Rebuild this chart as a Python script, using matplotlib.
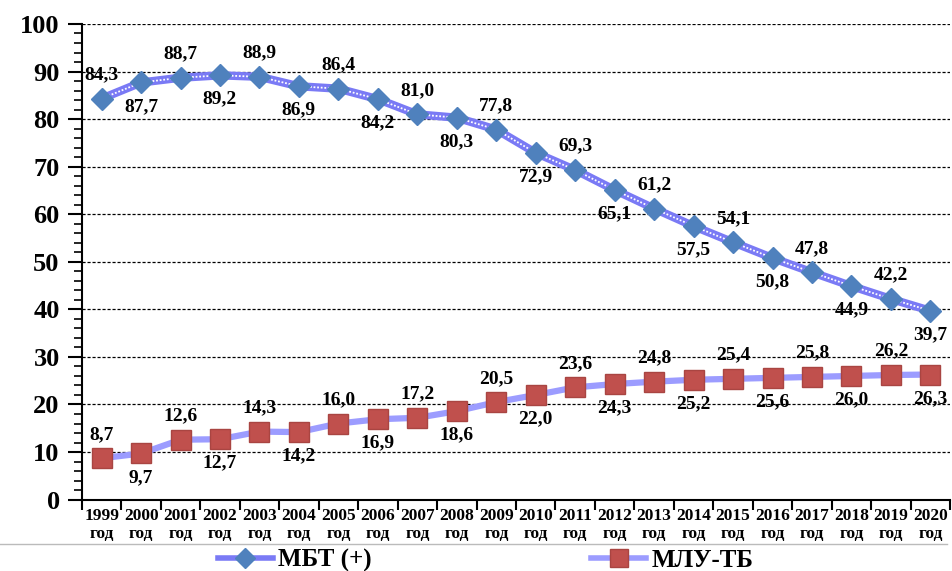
import numpy as np
import matplotlib.pyplot as plt
from matplotlib.lines import Line2D
from matplotlib.ticker import MultipleLocator, FixedLocator

plt.rcParams['font.family'] = ['Liberation Serif', 'DejaVu Serif']
plt.rcParams['font.weight'] = 'bold'

years = [str(y) for y in range(1999, 2021)]
mbt = [84.3, 87.7, 88.7, 89.2, 88.9, 86.9, 86.4, 84.2, 81.0, 80.3, 77.8,
       72.9, 69.3, 65.1, 61.2, 57.5, 54.1, 50.8, 47.8, 44.9, 42.2, 39.7]
mlu = [8.7, 9.7, 12.6, 12.7, 14.3, 14.2, 16.0, 16.9, 17.2, 18.6, 20.5,
       22.0, 23.6, 24.3, 24.8, 25.2, 25.4, 25.6, 25.8, 26.0, 26.2, 26.3]
names = ['МБТ (+)', 'МЛУ-ТБ']

x = np.arange(len(years))

fig = plt.figure(figsize=(9.52, 5.71), dpi=100)
ax = fig.add_axes([0.086, 0.125, 0.912, 0.833])

# grid
ax.set_axisbelow(True)
ax.yaxis.grid(True, which='major', color='black', linestyle=(0, (2.5, 1.5)), linewidth=0.9)

# MBT line: patterned blue
ax.plot(x, mbt, color='#7a7af5', linewidth=6, solid_capstyle='round', zorder=2)
ax.plot(x, mbt, color='white', linewidth=1.3, linestyle=(0, (1, 1)), zorder=2)
ax.plot(x, mbt, linestyle='none', marker='D', markersize=11,
        markerfacecolor='#4f81bd', markeredgecolor='#4f81bd', zorder=3)

# MLU line
ax.plot(x, mlu, color='#9c9cff', linewidth=4.5, zorder=2)
ax.plot(x, mlu, linestyle='none', marker='s', markersize=15,
        markerfacecolor='#c0504d', markeredgecolor='#a94542', zorder=3)

# data labels, alternating above/below
for i in x:
    off = 11 if i % 2 == 0 else -11
    va = 'bottom' if off > 0 else 'top'
    for vals in (mbt, mlu):
        ax.annotate(f'{vals[i]:.1f}'.replace('.', ','), (i, vals[i]),
                    xytext=(0, off), textcoords='offset points',
                    ha='center', va=va, fontsize=14, fontweight='bold', zorder=4)

ax.set_xlim(-0.5, len(years) - 0.5)
ax.set_ylim(0, 100)
ax.yaxis.set_major_locator(MultipleLocator(10))
ax.yaxis.set_minor_locator(MultipleLocator(2))
ax.tick_params(axis='y', which='major', length=10, width=1.5, labelsize=19, pad=6)
ax.tick_params(axis='y', which='minor', length=6, width=1.2)
for lab in ax.get_yticklabels():
    lab.set_fontweight('bold')

ax.set_xticks(x)
ax.set_xticklabels([y + '\nгод' for y in years], fontsize=12.5, fontweight='bold',
                   linespacing=1.2)
ax.xaxis.set_minor_locator(FixedLocator(np.arange(-0.5, len(years), 1)))
ax.tick_params(axis='x', which='major', length=0, pad=6)
ax.tick_params(axis='x', which='minor', length=7, width=1.5)

ax.spines['top'].set_visible(False)
ax.spines['right'].set_visible(False)
ax.spines['left'].set_linewidth(1.5)
ax.spines['bottom'].set_linewidth(1.5)

# legend
fig.add_artist(Line2D([0.0, 0.995], [0.047, 0.047], color='#bbbbbb', linewidth=1,
                      transform=fig.transFigure))
h1 = Line2D([], [], color='#7a7af5', linewidth=4, marker='D', markersize=10,
            markerfacecolor='#4f81bd', markeredgecolor='#4f81bd')
h2 = Line2D([], [], color='#9c9cff', linewidth=4, marker='s', markersize=13,
            markerfacecolor='#c0504d', markeredgecolor='#a94542')
fig.legend([h1, h2], names, loc='center', bbox_to_anchor=(0.51, 0.018), ncol=2,
           frameon=False, prop={'size': 18, 'weight': 'bold'},
           handlelength=2.2, handletextpad=0.2, columnspacing=8.8)

fig.savefig('out.png', dpi=100)
